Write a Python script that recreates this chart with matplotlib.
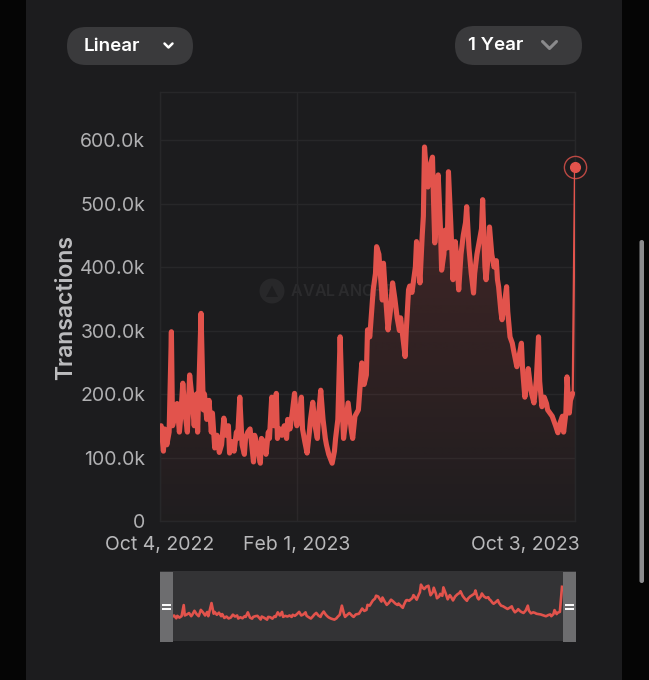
import numpy as np
import matplotlib
matplotlib.use("Agg")
import matplotlib.pyplot as plt
import matplotlib.dates as mdates
from matplotlib.patches import FancyBboxPatch, Rectangle, Circle, PathPatch, Polygon
from matplotlib.path import Path
from matplotlib.transforms import ScaledTranslation

plt.rcParams['font.family'] = ['Inter', 'DejaVu Sans']

# ---------------- data ----------------
start_date = "2022-10-04"
day_offsets = [0, 1, 3, 4, 6, 8, 10, 11, 13, 15, 17, 18, 20, 22, 24, 26, 28, 30, 32, 33,
               36, 38, 39, 41, 43, 45, 46, 48, 50, 52, 54, 56, 58, 60, 61, 63, 65, 67, 68, 70,
               72, 74, 75, 77, 79, 82, 83, 85, 88, 89, 91, 93, 95, 96, 98, 100, 102, 103, 105, 107,
               109, 111, 112, 114, 116, 118, 120, 122, 124, 125, 127, 129, 131, 132, 134, 136, 138, 139, 141, 143,
               145, 146, 148, 151, 153, 154, 156, 158, 160, 161, 162, 165, 167, 168, 169, 171, 174, 175, 177, 179,
               181, 182, 184, 187, 189, 190, 192, 193, 195, 196, 198, 200, 202, 204, 206, 208, 210, 211, 213, 215,
               216, 218, 219, 221, 224, 225, 227, 228, 230, 231, 232, 234, 235, 237, 239, 240, 241, 243, 244, 246,
               247, 249, 250, 252, 253, 255, 257, 259, 260, 262, 264, 266, 268, 269, 271, 273, 275, 276, 278, 280,
               282, 283, 285, 286, 288, 289, 291, 293, 295, 296, 297, 299, 300, 302, 304, 305, 307, 309, 310, 313,
               315, 317, 318, 320, 322, 323, 325, 326, 328, 330, 332, 333, 335, 337, 339, 340, 342, 344, 346, 347,
               349, 351, 353, 354, 356, 357, 359, 360, 362, 364]
transactions_k = [140, 150, 110, 145, 120, 140, 298, 150, 165, 185, 140, 160, 217, 170, 140, 230, 195, 150, 200, 140,
                  327, 175, 200, 160, 190, 140, 170, 115, 135, 108, 120, 162, 135, 150, 107, 125, 110, 140, 130, 195,
                  120, 105, 130, 140, 145, 93, 135, 120, 91, 130, 125, 105, 140, 130, 195, 150, 201, 130, 145, 135,
                  150, 130, 160, 145, 170, 201, 150, 165, 195, 145, 125, 107, 140, 160, 187, 150, 130, 165, 206, 160,
                  130, 120, 105, 91, 110, 130, 160, 290, 170, 130, 145, 186, 155, 140, 130, 165, 175, 200, 249, 215,
                  230, 301, 290, 364, 390, 432, 420, 395, 348, 406, 350, 301, 330, 375, 350, 320, 300, 320, 290, 259,
                  300, 364, 370, 360, 400, 440, 400, 375, 450, 480, 589, 540, 526, 560, 573, 500, 438, 480, 545, 460,
                  395, 420, 458, 430, 550, 470, 380, 440, 420, 364, 420, 450, 470, 495, 430, 390, 359, 390, 420, 440,
                  460, 506, 400, 380, 420, 463, 420, 400, 410, 380, 369, 330, 317, 340, 369, 330, 290, 280, 270, 243,
                  260, 280, 240, 195, 220, 240, 210, 200, 186, 220, 290, 220, 180, 195, 185, 175, 170, 165, 155, 150,
                  139, 155, 165, 140, 170, 227, 170, 190, 201, 558]
y_ticks = [0, 100000, 200000, 300000, 400000, 500000, 600000]
y_tick_labels = ["0", "100.0k", "200.0k", "300.0k", "400.0k", "500.0k", "600.0k"]
x_tick_dates = ["2022-10-04", "2023-02-01", "2023-10-03"]
x_tick_labels = ["Oct 4, 2022", "Feb 1, 2023", "Oct 3, 2023"]
y_label = "Transactions"
scale_button = "Linear"
range_button = "1 Year"
watermark = "AVALANCHE"

# ---------------- style ----------------
W, H = 649, 680
RED = "#e2534c"
PANEL = "#1c1c1e"
GRID = "#272729"
TICK = "#b0b0b2"

fig = plt.figure(figsize=(W / 100, H / 100), dpi=100, facecolor="#050505")

# background overlay in pixel coords
bg = fig.add_axes([0, 0, 1, 1], zorder=0)
bg.set_xlim(0, W)
bg.set_ylim(H, 0)
bg.axis("off")
bg.add_patch(Rectangle((26, 0), 596, H, facecolor=PANEL, edgecolor="none"))

# buttons
bg.add_patch(FancyBboxPatch((67, 27), 126, 38, boxstyle="round,pad=0,rounding_size=19",
                            facecolor="#3a3a3c", edgecolor="none"))
bg.text(84, 46.5, scale_button, color="white", fontsize=13.5, fontweight="semibold",
        ha="left", va="center")
bg.plot([164.5, 168.5, 172.5], [43.5, 47.5, 43.5], color="white", lw=1.8,
        solid_capstyle="round", solid_joinstyle="round")
bg.add_patch(FancyBboxPatch((455, 26), 127, 39, boxstyle="round,pad=0,rounding_size=19.5",
                            facecolor="#3a3a3c", edgecolor="none"))
bg.text(468, 45.5, range_button, color="white", fontsize=13.5, fontweight="semibold",
        ha="left", va="center")
bg.plot([542.5, 549.5, 556.5], [41.5, 48.5, 41.5], color="#8a8a8c", lw=2.2,
        solid_capstyle="round", solid_joinstyle="round")

# scrollbar
bg.add_patch(FancyBboxPatch((639.5, 240), 4.5, 343, boxstyle="round,pad=0,rounding_size=2.2",
                            facecolor="#8c8c8e", edgecolor="none"))

# y label
bg.text(66, 308, y_label, color="#bdbdbf", fontsize=16.5, fontweight="semibold",
        rotation=90, ha="center", va="center")

# watermark
bg.add_patch(Circle((272, 291), 12.5, facecolor="#28282a", edgecolor="none"))
bg.add_patch(Polygon([[266, 297], [272, 285.5], [278, 297]], closed=True,
                     facecolor="#1e1e20", edgecolor="none"))
for i, ch in enumerate(watermark):
    bg.text(291 + i * 11.7, 291.5, ch, color="#2b2b2d", fontsize=11.5, fontweight="semibold",
            ha="left", va="center")

# ---------------- main chart ----------------
dates = np.datetime64(start_date) + np.array(day_offsets).astype("timedelta64[D]")
x = mdates.date2num(dates)
v = np.array(transactions_k) * 1000.0
xt = mdates.date2num(np.array(x_tick_dates, dtype="datetime64[D]"))

x0, x1 = x[0], x[-1]
ymax = 675600

ax = fig.add_axes([160 / W, (H - 521) / H, 415 / W, 429 / H], zorder=1)
ax.set_facecolor("none")

# gradient fill under the line
verts = np.column_stack([np.r_[x0, x, x1], np.r_[0, v, 0]])
patch = PathPatch(Path(verts), facecolor="none", edgecolor="none")
ax.add_patch(patch)
rgb = matplotlib.colors.to_rgb(RED)
grad = np.zeros((256, 1, 4))
grad[..., 0], grad[..., 1], grad[..., 2] = rgb
grad[:, 0, 3] = np.linspace(0.02, 0.22, 256)
im = ax.imshow(grad, extent=[x0, x1, 0, 600000], origin="lower", aspect="auto",
               zorder=2, interpolation="bilinear")
im.set_clip_path(patch)

ax.plot(x[:-1], v[:-1], color=RED, lw=3.7, solid_joinstyle="round",
        solid_capstyle="round", zorder=4)
ax.plot(x[-2:], v[-2:], color=RED, lw=1.6, zorder=4, solid_capstyle="round")
ax.plot(x[-1:], v[-1:], "o", ms=7, color=RED, zorder=5, clip_on=False)
ax.plot(x[-1:], v[-1:], "o", ms=16, mfc="none", mec=RED, mew=1.0, alpha=0.8,
        zorder=5, clip_on=False)

ax.set_xlim(x0, x1)
ax.set_ylim(0, ymax)
ax.set_yticks(y_ticks)
ax.set_yticklabels(y_tick_labels)
ax.set_xticks(xt)
ax.set_xticklabels(x_tick_labels)
ax.tick_params(axis="y", length=0, pad=10.5, labelsize=14, labelcolor=TICK)
ax.tick_params(axis="x", length=0, pad=11, labelsize=14, labelcolor="#b8b8ba")
xlabs = ax.get_xticklabels()
for lab, ha in zip(xlabs, ["center", "center", "right"]):
    lab.set_ha(ha)
xlabs[2].set_transform(xlabs[2].get_transform() + ScaledTranslation(5 / 100, 0, fig.dpi_scale_trans))
ax.grid(True, color=GRID, lw=1)
for s in ax.spines.values():
    s.set_color(GRID)
    s.set_linewidth(1)

# ---------------- navigator ----------------
nav = fig.add_axes([160 / W, (H - 641) / H, 416 / W, 70 / H], zorder=1)
nav.set_facecolor("#333335")
nav.plot(np.array(day_offsets), v, color=RED, lw=1.9, solid_joinstyle="round")
nav.set_xlim(-12.2, 377.1)
nav.set_ylim(-213000, 783000)
nav.set_xticks([])
nav.set_yticks([])
for s in nav.spines.values():
    s.set_visible(False)

fg = fig.add_axes([0, 0, 1, 1], zorder=2)
fg.set_xlim(0, W)
fg.set_ylim(H, 0)
fg.axis("off")
fg.patch.set_alpha(0)
for hx in (160, 563):
    fg.add_patch(Rectangle((hx, 571.5), 13, 70, facecolor="#6d6d6f", edgecolor="none"))
    for yy in (604.5, 608.5):
        fg.plot([hx + 2, hx + 11], [yy, yy], color="white", lw=1.4, solid_capstyle="butt")

fig.savefig("out.png", dpi=100, facecolor=fig.get_facecolor())
